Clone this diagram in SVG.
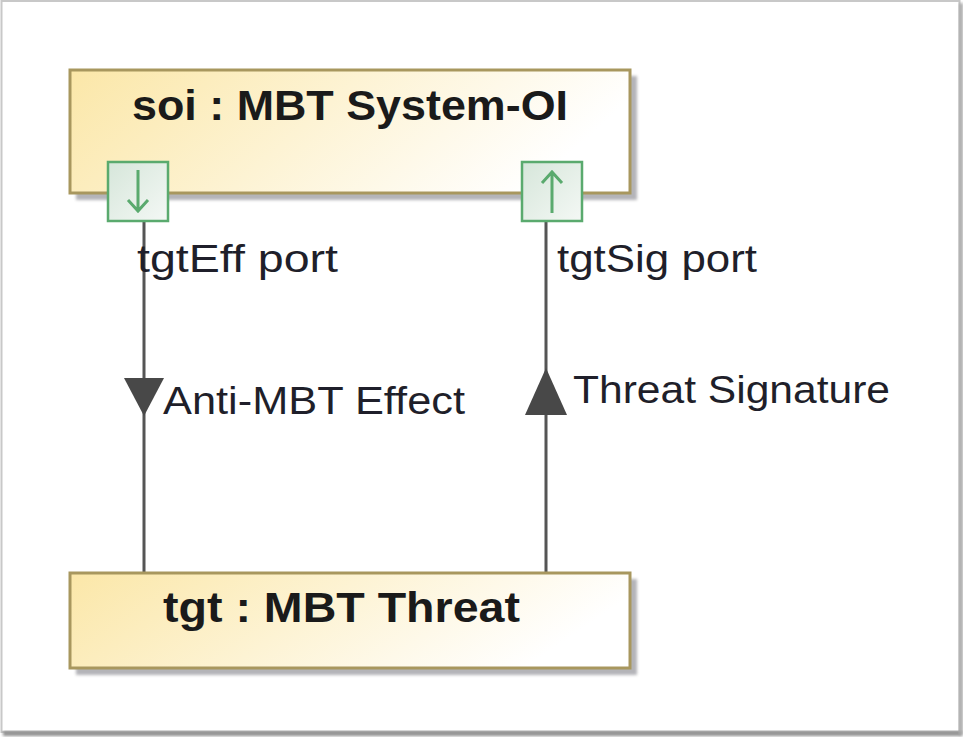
<svg xmlns="http://www.w3.org/2000/svg" width="963" height="737" viewBox="0 0 963 737">
  <style>
    .part { stroke: #a8975e; stroke-width: 3; fill: url(#partFill); }
    .shadow { fill: #b4b4b8; }
    .title { font-family: "Liberation Sans", Arial, sans-serif; font-weight: bold; font-size: 43px; fill: #1a1a1a; }
    .label { font-family: "Liberation Sans", Arial, sans-serif; font-size: 38px; fill: #1f1f2a; }
    .port { fill: url(#portFill); stroke: #5aaa6e; stroke-width: 2.5; }
    .portArrow { stroke: #5aaa6e; stroke-width: 3; fill: none; }
    .flow { stroke: #555555; stroke-width: 3; fill: none; }
    .head { fill: #484848; }
  </style>
  <defs>
    <linearGradient id="partFill" x1="0" y1="0" x2="1" y2="0.25">
      <stop offset="0" stop-color="#fbe7a8"/>
      <stop offset="1" stop-color="#ffffff"/>
    </linearGradient>
    <linearGradient id="portFill" x1="0" y1="0" x2="1" y2="1">
      <stop offset="0" stop-color="#d6e6da"/>
      <stop offset="1" stop-color="#f4f8f5"/>
    </linearGradient>
    <filter id="soft" x="-5%" y="-5%" width="110%" height="110%">
      <feGaussianBlur stdDeviation="1.5"/>
    </filter>
  </defs>

  <!-- page frame -->
  <rect x="0" y="0" width="963" height="737" fill="#ffffff"/>
  <rect x="1.5" y="1" width="958" height="731" fill="none" stroke="#c8c8c8" stroke-width="2"/>
  <rect x="3" y="731" width="959" height="5" fill="#8f8f8f" filter="url(#soft)"/>
  <rect x="959" y="3" width="4" height="732" fill="#a8a8a8" filter="url(#soft)"/>

  <!-- connectors -->
  <g id="connectors">
    <line class="flow" x1="144" y1="222" x2="144" y2="573"/>
    <polygon class="head" points="124,378 164,378 144,416"/>
    <line class="flow" x1="546" y1="222" x2="546" y2="573"/>
    <polygon class="head" points="546,368 567,415 525,415"/>
    <text class="label" x="163" y="414" textLength="302" lengthAdjust="spacingAndGlyphs">Anti-MBT Effect</text>
    <text class="label" x="573" y="403" textLength="317" lengthAdjust="spacingAndGlyphs">Threat Signature</text>
  </g>

  <!-- system of interest -->
  <g id="soi">
    <rect class="shadow" x="76" y="76" width="561" height="124" filter="url(#soft)"/>
    <rect class="part" x="70" y="70" width="560" height="123"/>
    <text class="title" x="132" y="120" textLength="436" lengthAdjust="spacingAndGlyphs">soi : MBT System-OI</text>
  </g>

  <!-- ports -->
  <g id="tgtEff">
    <rect class="port" x="108" y="162" width="60" height="59"/>
    <path class="portArrow" d="M138,170 V211 M128,200 L138,211 L148,200"/>
    <text class="label" x="137" y="272" textLength="201" lengthAdjust="spacingAndGlyphs">tgtEff port</text>
  </g>
  <g id="tgtSig">
    <rect class="port" x="522" y="162" width="60" height="59"/>
    <path class="portArrow" d="M552,213 V172 M542,183 L552,172 L562,183"/>
    <text class="label" x="557" y="272" textLength="200" lengthAdjust="spacingAndGlyphs">tgtSig port</text>
  </g>

  <!-- threat -->
  <g id="tgt">
    <rect class="shadow" x="76" y="579" width="561" height="96" filter="url(#soft)"/>
    <rect class="part" x="70" y="573" width="560" height="95"/>
    <text class="title" x="163" y="622" textLength="357" lengthAdjust="spacingAndGlyphs">tgt : MBT Threat</text>
  </g>
</svg>
